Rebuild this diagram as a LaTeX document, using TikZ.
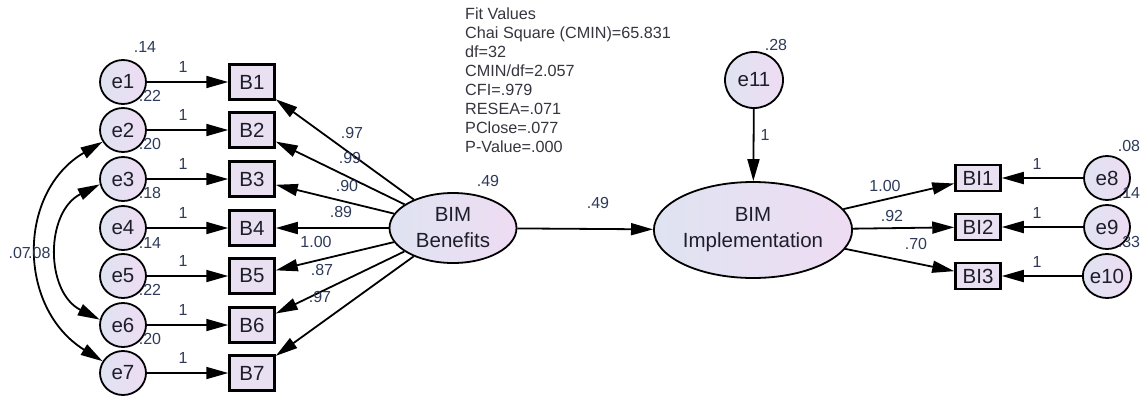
\documentclass[tikz,border=0pt]{standalone}
\usepackage{fontspec}
\setmainfont{Liberation Sans}
\usetikzlibrary{arrows.meta,shapes.geometric,shadings}
\definecolor{fillL}{HTML}{DFE3F1}
\definecolor{fillR}{HTML}{EEDCF3}
\definecolor{boxfill}{HTML}{E9E1F1}
\definecolor{txt}{HTML}{1E1E2A}
\definecolor{est}{HTML}{2E3A58}
\tikzset{
  errnode/.style={ellipse, draw=black, line width=1.8pt, left color=fillL, right color=fillR,
    minimum width=46pt, minimum height=44pt, inner sep=0pt, text=txt,
    font=\fontsize{20.5}{24}\selectfont},
  obsbox/.style={rectangle, draw=black, line width=2.5pt, fill=boxfill,
    minimum width=45pt, minimum height=35pt, inner sep=0pt, text=txt,
    font=\fontsize{20.5}{24}\selectfont},
  smallbox/.style={obsbox, minimum height=26pt},
  latent/.style={ellipse, draw=black, line width=1.8pt, left color=fillL, right color=fillR,
    inner sep=0pt, text=txt, align=center, font=\fontsize{20.5}{26}\selectfont},
  est/.style={text=est, inner sep=0pt, font=\fontsize{16}{18}\selectfont},
  arr/.style={line width=1.8pt, -{Triangle[length=22pt,width=12pt]}},
  biarr/.style={line width=1.8pt, {Triangle[length=22pt,width=12pt]}-{Triangle[length=22pt,width=12pt]}},
}
\begin{document}
\begin{tikzpicture}[x=1pt,y=-1pt]
\useasboundingbox (0,0) rectangle (1142,397);

% error terms and indicators of BIM Benefits
\foreach \i/\y in {1/82,2/130,3/179,4/228,5/276,6/325,7/373}{
  \node[errnode] (e\i) at (123,\y) {e\i};
  \node[obsbox] (B\i) at (252,\y) {B\i};
  \draw[arr] (e\i) -- (B\i);
  \node[est] at (183,\y-15) {1};
}

% latent variables
\node[latent, minimum width=127pt, minimum height=70pt] (BB) at (453,228) {BIM\\Benefits};
\node[latent, minimum width=193pt, minimum height=96pt] (BI) at (753,230) {BIM\\Implementation};
\node[errnode, minimum width=58pt, minimum height=56pt] (e11) at (754,80) {e11};

% indicators of BIM Implementation
\foreach \i/\e/\y in {1/8/178,2/9/227,3/10/276}{
  \node[smallbox] (BI\i) at (978,\y) {BI\i};
  \node[errnode] (e\e) at (1107,\y) {e\e};
  \draw[arr] (e\e) -- (BI\i);
  \node[est] at (1037,\y-14) {1};
}

% loadings
\foreach \i in {1,...,7}{ \draw[arr] (BB) -- (B\i); }
\foreach \i in {1,2,3}{ \draw[arr] (BI) -- (BI\i); }
\draw[arr] (BB) -- (BI);
\draw[arr] (e11) -- (BI);

% covariances between error terms
\draw[biarr] (e2.210) .. controls (17,192) and (17,308) .. (e7.150);
\draw[biarr] (e3.193) .. controls (45,212) and (45,292) .. (e6.167);

% estimates
\node[est] at (145,47) {.14};
\node[est] at (150,96) {.22};
\node[est] at (150,144) {.20};
\node[est] at (150,193) {.18};
\node[est] at (150,243) {.14};
\node[est] at (150,290) {.22};
\node[est] at (150,339) {.20};
\node[est, anchor=east] at (31,253) {.07};
\node[est, anchor=west] at (28,253) {.08};

\node[est] at (352,133) {.97};
\node[est] at (350,158) {.99};
\node[est] at (347,186) {.90};
\node[est] at (341,212) {.89};
\node[est] at (316,242) {1.00};
\node[est] at (322,270) {.87};
\node[est] at (320,297) {.97};

\node[est] at (488,181) {.49};
\node[est] at (598,203) {.49};
\node[est] at (776,45) {.28};
\node[est] at (765,135) {1};

\node[est] at (885,186) {1.00};
\node[est] at (892,216) {.92};
\node[est] at (916,244) {.70};
\node[est] at (1129,146) {.08};
\node[est] at (1129,193) {.14};
\node[est] at (1129,242) {.33};

% model fit summary
\node[anchor=north west, align=left, inner sep=0pt, text=txt!90,
      font=\fontsize{16.2}{19}\selectfont] (fit) at (465,8)
  {Fit Values\\Chai Square (CMIN)=65.831\\df=32\\CMIN/df=2.057\\CFI=.979\\RESEA=.071\\PClose=.077\\P-Value=.000};
\end{tikzpicture}
\end{document}
